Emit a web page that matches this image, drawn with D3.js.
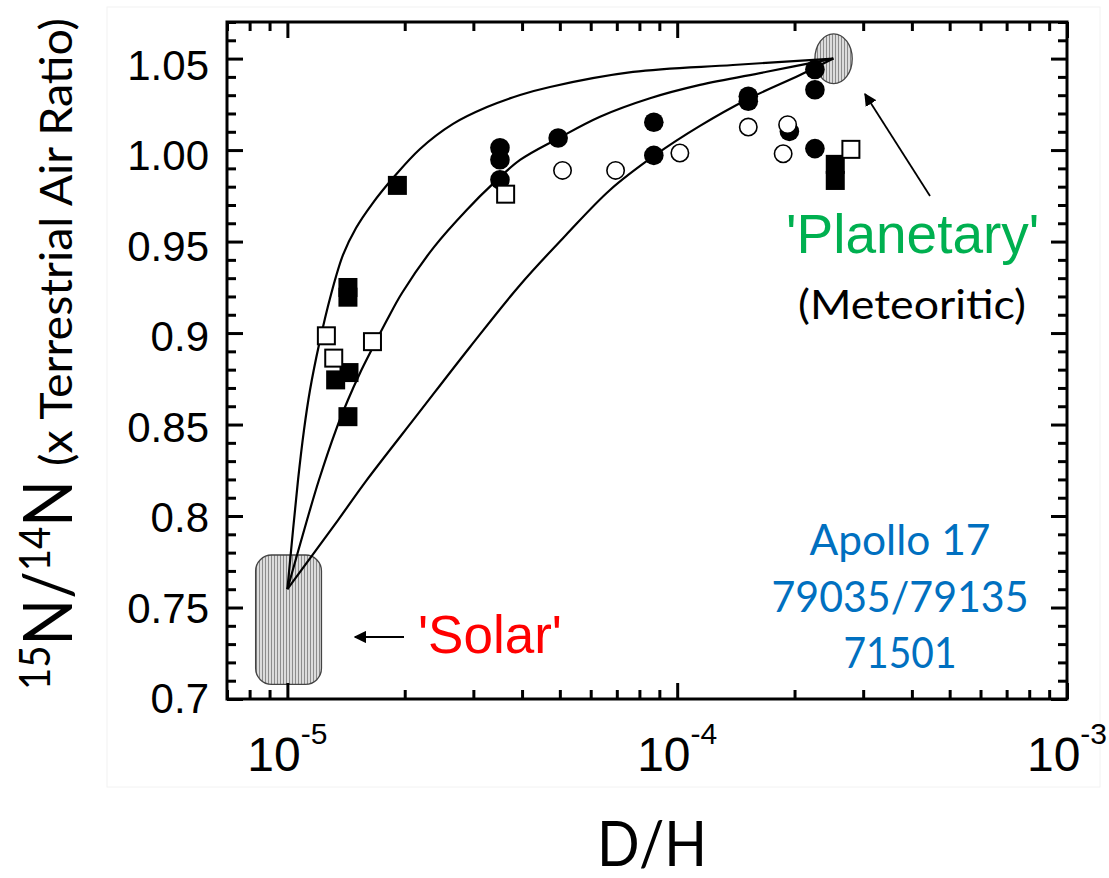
<!DOCTYPE html>
<html>
<head>
<meta charset="utf-8">
<script src="https://cdn.jsdelivr.net/npm/d3@7"></script>
<style>
  body { margin: 0; background: #fff; }
</style>
</head>
<body>
<div id="viz"></div>
<script>
var width = 1109,
    height = 878;

// values: [D/H, 15N/14N]
var filledSquares = [
  [1.915e-5, 0.9807], [1.43e-5, 0.9249], [1.43e-5, 0.9196],
  [1.33e-5, 0.8744], [1.439e-5, 0.8784], [1.43e-5, 0.8543],
  [2.544e-4, 0.9922], [2.544e-4, 0.9834]
];
var filledCircles = [
  [3.51e-5, 1.0013], [3.51e-5, 0.9947], [3.51e-5, 0.9838],
  [4.95e-5, 1.0066], [8.71e-5, 1.0152], [8.71e-5, 0.9971],
  [1.522e-4, 1.0294], [1.522e-4, 1.0267], [2.256e-4, 1.044],
  [2.256e-4, 1.033], [1.94e-4, 1.0102], [2.256e-4, 1.0008]
];
var openCircles = [
  [5.08e-5, 0.9889], [6.95e-5, 0.9889], [1.016e-4, 0.9984],
  [1.522e-4, 1.0126], [1.92e-4, 1.0139], [1.87e-4, 0.998]
];
var openSquares = [
  [3.63e-5, 0.9759], [1.259e-5, 0.8985], [1.315e-5, 0.8863],
  [1.653e-5, 0.8953], [2.79e-4, 1.0004]
];

// mixing curves, solar -> planetary
var curveA = [
  [1.0e-5, 0.760], [1.065e-5, 0.8197], [1.103e-5, 0.847], [1.143e-5, 0.8689],
  [1.205e-5, 0.8935], [1.293e-5, 0.9208], [1.389e-5, 0.9427], [1.500e-5, 0.9574],
  [1.649e-5, 0.9705], [1.866e-5, 0.9847], [2.189e-5, 1.0006], [2.660e-5, 1.0143],
  [3.252e-5, 1.0235], [3.953e-5, 1.0301], [4.718e-5, 1.0345], [7.704e-5, 1.0427],
  [1.390e-4, 1.0465], [2.515e-4, 1.05]
];
var curveB = [
  [1.0e-5, 0.760], [1.123e-5, 0.7978], [1.205e-5, 0.8197], [1.332e-5, 0.847],
  [1.430e-5, 0.8634], [1.536e-5, 0.8782], [1.659e-5, 0.8924], [1.801e-5, 0.9071],
  [1.968e-5, 0.9219], [2.377e-5, 0.947], [2.884e-5, 0.9673], [3.375e-5, 0.9818],
  [3.953e-5, 0.9946], [4.955e-5, 1.0064], [6.339e-5, 1.0182], [8.516e-5, 1.0283],
  [1.144e-4, 1.0356], [1.697e-4, 1.0428], [2.515e-4, 1.05]
];
var curveC = [
  [1.0e-5, 0.760], [1.349e-5, 0.7978], [1.591e-5, 0.8191], [2.163e-5, 0.8558],
  [2.941e-5, 0.8924], [3.953e-5, 0.9263], [5.185e-5, 0.9536], [6.724e-5, 0.9782],
  [8.717e-5, 0.9968], [1.144e-4, 1.0132], [1.520e-4, 1.0279], [2.066e-4, 1.041],
  [2.515e-4, 1.05]
];

// source regions
var solarDH = [8.29e-6, 1.223e-5],
    solarN = [0.708, 0.7787];
var planetDH = [2.256e-4, 2.812e-4],
    planetN = [1.0363, 1.0635];

// ticks
var xMajor = [1e-5, 1e-4, 1e-3];
var xExponents = ["-5", "-4", "-3"];
var yMajor = [0.7, 0.75, 0.8, 0.85, 0.9, 0.95, 1.0, 1.05];
var yLabels = ["0.7", "0.75", "0.8", "0.85", "0.9", "0.95", "1.00", "1.05"];

var apolloLines = ["Apollo 17", "79035/79135", "71501"];

var pLeft = 227, pRight = 1067, pTop = 22, pBottom = 699;

var x = d3.scaleLog().domain([7e-6, 1e-3]).range([pLeft, pRight]);
var y = d3.scaleLinear().domain([0.7, 1.07]).range([pBottom, pTop]);
// the pasted tick labels sit a little off their ticks
var yLab = d3.scaleLinear().domain([0.7, 1.05]).range([713, 80]);

var svg = d3.select("#viz").append("svg")
    .attr("width", width)
    .attr("height", height)
    .style("font-family", "'Liberation Sans', Arial, sans-serif");

// hatch for the two reservoirs
var defs = svg.append("defs");
var pat = defs.append("pattern")
    .attr("id", "hatch")
    .attr("patternUnits", "userSpaceOnUse")
    .attr("width", 3)
    .attr("height", 10);
pat.append("rect").attr("width", 3).attr("height", 10).attr("fill", "#dcdcdc");
pat.append("line")
    .attr("x1", 1.5).attr("x2", 1.5).attr("y1", 0).attr("y2", 10)
    .attr("stroke", "#8c8c8c").attr("stroke-width", 1);

defs.append("marker")
    .attr("id", "arrow")
    .attr("viewBox", "0 0 10 10")
    .attr("refX", 9).attr("refY", 5)
    .attr("markerWidth", 7).attr("markerHeight", 7)
    .attr("markerUnits", "strokeWidth")
    .attr("orient", "auto")
  .append("path")
    .attr("d", "M0,0 L10,5 L0,10 z")
    .attr("fill", "#000");

// faint border of the pasted figure
svg.append("rect")
    .attr("x", 107).attr("y", 7)
    .attr("width", 993).attr("height", 780)
    .attr("fill", "none")
    .attr("stroke", "#f2f2f2")
    .attr("stroke-width", 1);

// Solar box
svg.append("rect")
    .attr("x", x(solarDH[0]))
    .attr("y", y(solarN[1]))
    .attr("width", x(solarDH[1]) - x(solarDH[0]))
    .attr("height", y(solarN[0]) - y(solarN[1]))
    .attr("rx", 16).attr("ry", 16)
    .attr("fill", "url(#hatch)")
    .attr("stroke", "#444")
    .attr("stroke-width", 1.3);

// Planetary ellipse
svg.append("ellipse")
    .attr("cx", (x(planetDH[0]) + x(planetDH[1])) / 2)
    .attr("cy", (y(planetN[0]) + y(planetN[1])) / 2)
    .attr("rx", (x(planetDH[1]) - x(planetDH[0])) / 2)
    .attr("ry", (y(planetN[0]) - y(planetN[1])) / 2)
    .attr("fill", "url(#hatch)")
    .attr("stroke", "#444")
    .attr("stroke-width", 1.3);

// mixing curves
var line = d3.line()
    .x(function(d) { return x(d[0]); })
    .y(function(d) { return y(d[1]); })
    .curve(d3.curveCatmullRom.alpha(0.5));

[curveA, curveB, curveC].forEach(function(c) {
  svg.append("path")
      .datum(c)
      .attr("d", line)
      .attr("fill", "none")
      .attr("stroke", "#000")
      .attr("stroke-width", 2.2);
});

// markers
var sq = 19;
svg.selectAll(".fsq").data(filledSquares).enter().append("rect")
    .attr("class", "fsq")
    .attr("x", function(d) { return x(d[0]) - sq / 2; })
    .attr("y", function(d) { return y(d[1]) - sq / 2; })
    .attr("width", sq).attr("height", sq)
    .attr("fill", "#000");

svg.selectAll(".fci").data(filledCircles).enter().append("circle")
    .attr("class", "fci")
    .attr("cx", function(d) { return x(d[0]); })
    .attr("cy", function(d) { return y(d[1]); })
    .attr("r", 9.8)
    .attr("fill", "#000");

svg.selectAll(".oci").data(openCircles).enter().append("circle")
    .attr("class", "oci")
    .attr("cx", function(d) { return x(d[0]); })
    .attr("cy", function(d) { return y(d[1]); })
    .attr("r", 8.7)
    .attr("fill", "#fff")
    .attr("stroke", "#000")
    .attr("stroke-width", 1.6);

svg.selectAll(".osq").data(openSquares).enter().append("rect")
    .attr("class", "osq")
    .attr("x", function(d) { return x(d[0]) - (sq - 2) / 2; })
    .attr("y", function(d) { return y(d[1]) - (sq - 2) / 2; })
    .attr("width", sq - 2).attr("height", sq - 2)
    .attr("fill", "#fff")
    .attr("stroke", "#000")
    .attr("stroke-width", 2);

// ticks on all four sides, pointing in
function isMajorX(v) { return Math.abs(Math.log10(v) - Math.round(Math.log10(v))) < 1e-6; }
var xMinor = x.ticks().filter(function(v) { return !isMajorX(v); });
var yMinor = d3.range(70, 108).map(function(v) { return v / 100; })
    .filter(function(v) { return Math.round(v * 100) % 5 !== 0; });

function styleTicks(g) {
  g.select(".domain").remove();
  g.selectAll(".tick line").attr("stroke", "#000").attr("stroke-width", 3);
}

[[d3.axisBottom, pBottom], [d3.axisTop, pTop]].forEach(function(a) {
  svg.append("g").attr("transform", "translate(0," + a[1] + ")")
      .call(a[0](x).tickValues(xMinor).tickSize(-9).tickFormat(""))
      .call(styleTicks);
  svg.append("g").attr("transform", "translate(0," + a[1] + ")")
      .call(a[0](x).tickValues(xMajor).tickSize(-16).tickFormat(""))
      .call(styleTicks);
});
[[d3.axisLeft, pLeft], [d3.axisRight, pRight]].forEach(function(a) {
  svg.append("g").attr("transform", "translate(" + a[1] + ",0)")
      .call(a[0](y).tickValues(yMinor).tickSize(-9).tickFormat(""))
      .call(styleTicks);
  svg.append("g").attr("transform", "translate(" + a[1] + ",0)")
      .call(a[0](y).tickValues(yMajor).tickSize(-16).tickFormat(""))
      .call(styleTicks);
});

// frame
svg.append("rect")
    .attr("x", pLeft).attr("y", pTop)
    .attr("width", pRight - pLeft).attr("height", pBottom - pTop)
    .attr("fill", "none")
    .attr("stroke", "#000")
    .attr("stroke-width", 3);

// tick labels
svg.selectAll(".ylab").data(yMajor).enter().append("text")
    .attr("class", "ylab")
    .attr("x", 209)
    .attr("y", function(d) { return yLab(d); })
    .attr("text-anchor", "end")
    .attr("font-size", 42)
    .text(function(d, i) { return yLabels[i]; });

var xl = svg.selectAll(".xlab").data(xMajor).enter().append("text")
    .attr("class", "xlab")
    .attr("x", function(d) { return x(d); })
    .attr("y", 771)
    .attr("text-anchor", "middle")
    .attr("font-size", 48);
xl.append("tspan").text("10");
xl.append("tspan")
    .attr("font-size", 30)
    .attr("dy", -27)
    .text(function(d, i) { return xExponents[i]; });

// axis titles
var calibri = "Lato, 'Open Sans', sans-serif";
svg.append("text")
    .attr("x", 652).attr("y", 866)
    .attr("text-anchor", "middle")
    .attr("font-family", calibri)
    .attr("font-size", 62)
    .attr("textLength", 110)
    .attr("lengthAdjust", "spacingAndGlyphs")
    .text("D/H");

var yt = svg.append("g").attr("transform", "translate(72,0) rotate(-90)");
var ta = yt.append("text")
    .attr("x", -690).attr("y", 0)
    .attr("font-family", calibri)
    .attr("textLength", 210)
    .attr("lengthAdjust", "spacingAndGlyphs");
ta.append("tspan").attr("font-size", 42).attr("dy", -22).text("15");
ta.append("tspan").attr("font-size", 67).attr("dy", 22).text("N/");
ta.append("tspan").attr("font-size", 42).attr("dy", -22).text("14");
ta.append("tspan").attr("font-size", 67).attr("dy", 22).text("N");
yt.append("text")
    .attr("x", -466).attr("y", 0)
    .attr("font-family", calibri)
    .attr("font-size", 44)
    .attr("textLength", 448)
    .attr("lengthAdjust", "spacingAndGlyphs")
    .text("(x Terrestrial Air Ratio)");

// annotations
svg.append("text")
    .attr("x", 786).attr("y", 253)
    .attr("font-size", 55)
    .attr("fill", "#00b050")
    .text("'Planetary'");
svg.append("text")
    .attr("x", 912).attr("y", 319)
    .attr("text-anchor", "middle")
    .attr("font-family", calibri)
    .attr("font-size", 41)
    .attr("textLength", 228)
    .attr("lengthAdjust", "spacingAndGlyphs")
    .text("(Meteoritic)");
svg.append("line")
    .attr("x1", 930).attr("y1", 196)
    .attr("x2", 865).attr("y2", 94)
    .attr("stroke", "#000").attr("stroke-width", 1.8)
    .attr("marker-end", "url(#arrow)");

svg.append("text")
    .attr("x", 418).attr("y", 653)
    .attr("font-size", 53)
    .attr("fill", "#ff0000")
    .text("'Solar'");
svg.append("line")
    .attr("x1", 404).attr("y1", 637)
    .attr("x2", 355).attr("y2", 637)
    .attr("stroke", "#000").attr("stroke-width", 1.8)
    .attr("marker-end", "url(#arrow)");

var apolloLen = [181, 257, 113];
svg.selectAll(".apollo").data(apolloLines).enter().append("text")
    .attr("class", "apollo")
    .attr("x", 900)
    .attr("y", function(d, i) { return 555 + i * 56.7; })
    .attr("text-anchor", "middle")
    .attr("font-family", calibri)
    .attr("font-size", 42)
    .attr("fill", "#0070c0")
    .attr("textLength", function(d, i) { return apolloLen[i]; })
    .attr("lengthAdjust", "spacingAndGlyphs")
    .text(function(d) { return d; });
</script>
</body>
</html>
